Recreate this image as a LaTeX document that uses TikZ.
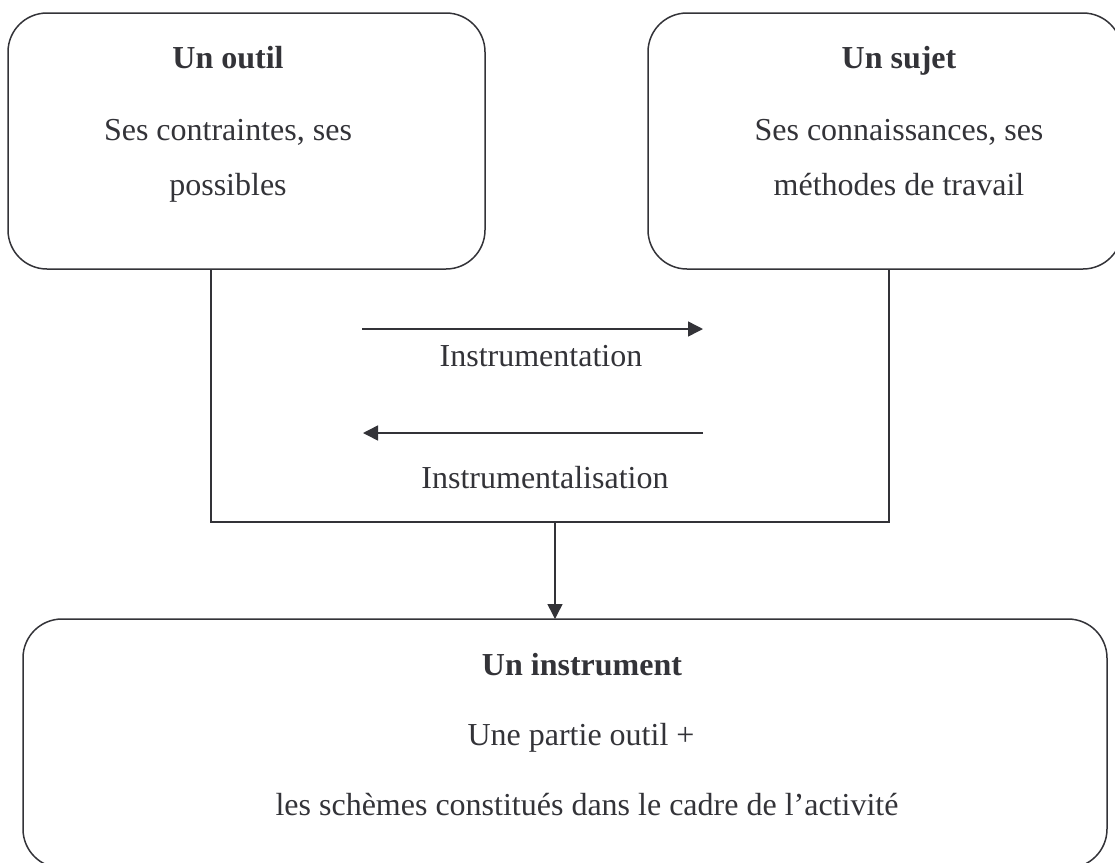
\documentclass[tikz,border=0pt]{standalone}
\usepackage{fontspec}
\setmainfont{Liberation Serif}
\usetikzlibrary{arrows.meta}
\definecolor{ink}{RGB}{51,51,56}

\begin{document}
\begin{tikzpicture}[x=0.5pt, y=-0.5pt,
    trait/.style={draw=ink, line width=0.75pt},
    cadre/.style={trait, rounded corners=19.5pt, inner sep=0pt, outer sep=0pt},
    fleche/.style={trait, -{Triangle[length=7.5pt, width=7.5pt]}},
    ligne/.style={anchor=base, text=ink, font=\fontsize{16}{19}\selectfont},
    titre/.style={ligne, font=\fontsize{16}{19}\selectfont\bfseries}]
    \useasboundingbox (0, 0) rectangle (1115, 863);

    % the three boxes
    \node[cadre, minimum width=238.5pt, minimum height=128pt] (outil)
        at (246.5, 141) {};
    \node[cadre, minimum width=237pt, minimum height=128pt] (sujet)
        at (885, 141) {};
    \node[cadre, minimum width=542pt, minimum height=124.5pt] (instrument)
        at (565, 743.5) {};

    \node[titre] (outil-t) at (228, 68) {Un outil};
    \node[ligne] (outil-a) at (228, 140) {Ses contraintes, ses};
    \node[ligne] (outil-b) at (228, 195) {possibles};

    \node[titre] (sujet-t) at (899, 68) {Un sujet};
    \node[ligne] (sujet-a) at (899, 140) {Ses connaissances, ses};
    \node[ligne] (sujet-b) at (899, 195) {méthodes de travail};

    \node[titre] (instrument-t) at (582, 675) {Un instrument};
    \node[ligne] (instrument-a) at (581, 745) {Une partie outil +};
    \node[ligne] (instrument-b) at (587, 815)
        {les schèmes constitués dans le cadre de l’activité};

    % the genesis in between
    \coordinate (gauche) at (211, 522);
    \coordinate (droite) at (889, 522);
    \coordinate (milieu) at (555, 522);
    \draw[trait] (outil.south -| gauche) -- (gauche) -- (droite)
        -- (sujet.south -| droite);
    \draw[fleche] (milieu) -- (instrument.north -| milieu);

    \coordinate (a1) at (362, 329);
    \coordinate (b1) at (703, 329);
    \coordinate (a2) at (703, 433);
    \coordinate (b2) at (363, 433);
    \draw[fleche] (a1) -- (b1);
    \draw[fleche] (a2) -- (b2);
    \node[ligne] (instrumentation) at (541, 366) {Instrumentation};
    \node[ligne] (instrumentalisation) at (545, 488) {Instrumentalisation};
\end{tikzpicture}
\end{document}
